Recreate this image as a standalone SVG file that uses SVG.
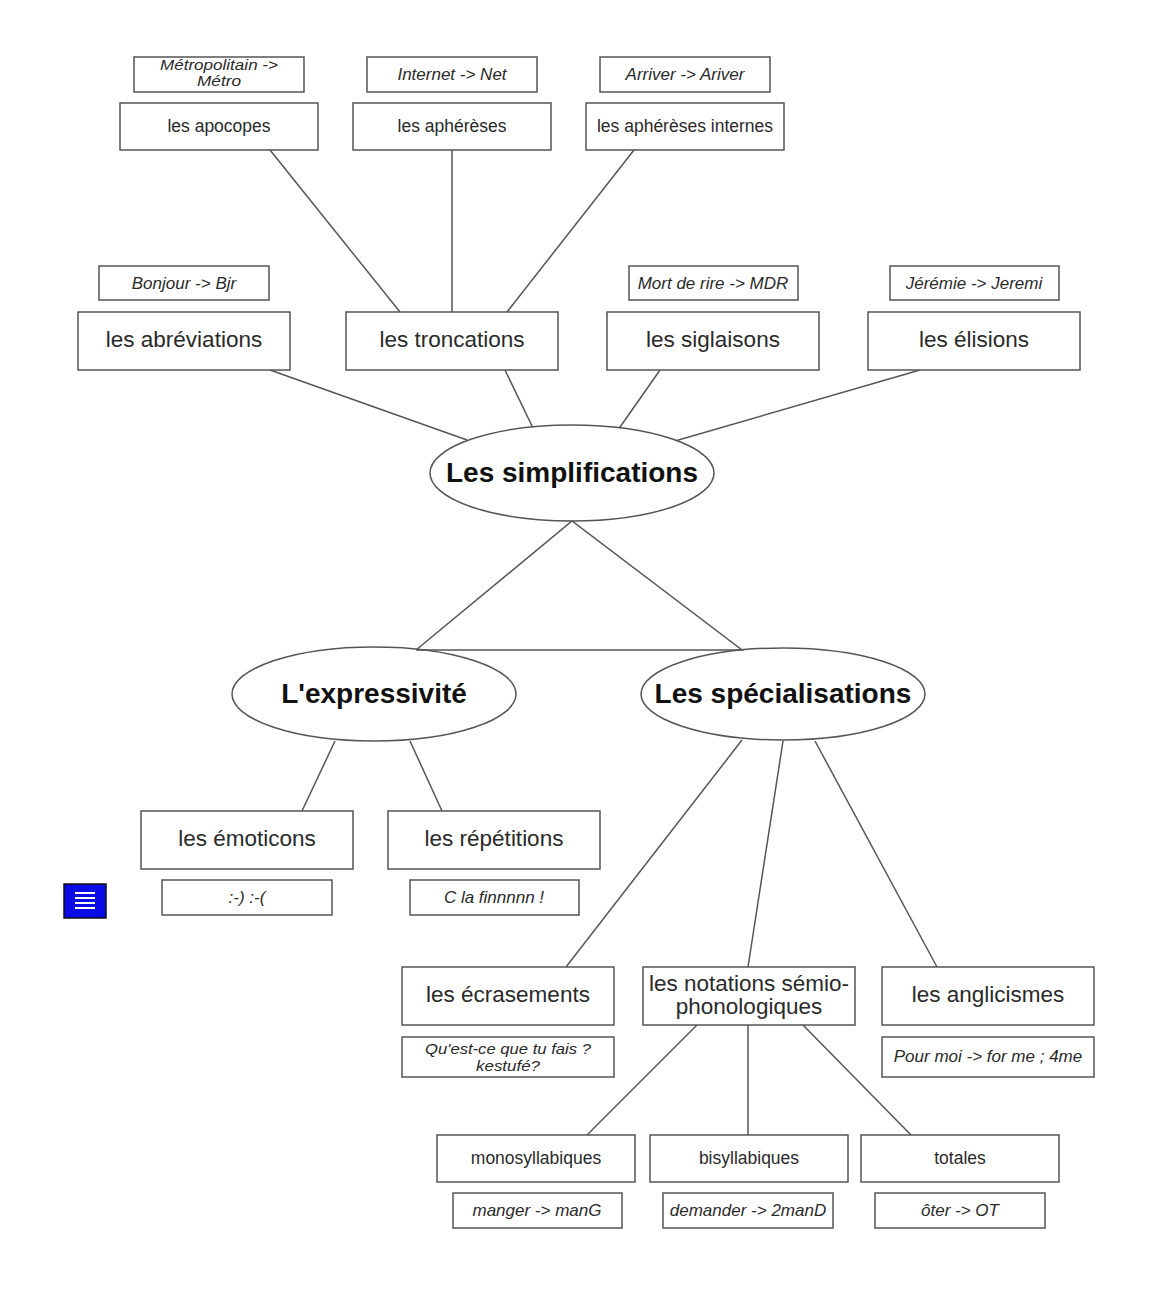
<svg xmlns="http://www.w3.org/2000/svg" width="1159" height="1290" viewBox="0 0 1159 1290">
<style>
.box{fill:#fff;stroke:#555;stroke-width:1.5}
.ell{fill:#fff;stroke:#555;stroke-width:1.5}
.ln{stroke:#555;stroke-width:1.5;fill:none}
.t{font-family:"Liberation Sans",Arial,sans-serif;fill:#2a2a2a;text-anchor:middle}
.big{font-size:22.5px}
.sm{font-size:17.5px}
.ex{font-size:17px;font-style:italic}
.ex2{font-size:14px;font-style:italic}
.hd{font-size:28px;font-weight:bold;fill:#111}
</style>
<rect width="1159" height="1290" fill="#fff"/>
<g id="connectors">
<line class="ln" x1="270" y1="150" x2="400" y2="312"/>
<line class="ln" x1="452" y1="150" x2="452" y2="312"/>
<line class="ln" x1="634" y1="150" x2="507" y2="312"/>
<line class="ln" x1="270" y1="370" x2="467" y2="440"/>
<line class="ln" x1="505" y1="370" x2="533" y2="428"/>
<line class="ln" x1="660" y1="370" x2="618" y2="430"/>
<line class="ln" x1="920" y1="370" x2="675" y2="441"/>
<line class="ln" x1="335" y1="741" x2="302" y2="811"/>
<line class="ln" x1="410" y1="741" x2="442" y2="811"/>
<line class="ln" x1="742" y1="740" x2="566" y2="967"/>
<line class="ln" x1="783" y1="741" x2="748" y2="967"/>
<line class="ln" x1="815" y1="741" x2="937" y2="967"/>
<line class="ln" x1="697" y1="1025" x2="587" y2="1135"/>
<line class="ln" x1="748" y1="1025" x2="748" y2="1135"/>
<line class="ln" x1="803" y1="1025" x2="911" y2="1135"/>
</g>
<g id="ex-metro"><rect class="box" x="134" y="57" width="170" height="35"/><text class="t ex2" x="219" y="70" textLength="118" lengthAdjust="spacingAndGlyphs">Métropolitain -&gt;</text><text class="t ex2" x="219" y="86" textLength="44" lengthAdjust="spacingAndGlyphs">Métro</text></g>
<g id="ex-net"><rect class="box" x="367" y="57" width="170" height="35"/><text class="t ex" x="452" y="80">Internet -&gt; Net</text></g>
<g id="ex-ariver"><rect class="box" x="600" y="57" width="170" height="35"/><text class="t ex" x="685" y="80">Arriver -&gt; Ariver</text></g>
<g id="apocopes"><rect class="box" x="120" y="103" width="198" height="47"/><text class="t sm" x="219" y="132">les apocopes</text></g>
<g id="aphereses"><rect class="box" x="353" y="103" width="198" height="47"/><text class="t sm" x="452" y="132">les aphérèses</text></g>
<g id="aphereses-internes"><rect class="box" x="586" y="103" width="198" height="47"/><text class="t sm" x="685" y="132">les aphérèses internes</text></g>
<g id="ex-bjr"><rect class="box" x="99" y="266" width="170" height="34"/><text class="t ex" x="184" y="289">Bonjour -&gt; Bjr</text></g>
<g id="ex-mdr"><rect class="box" x="629" y="266" width="169" height="34"/><text class="t ex" x="713" y="289">Mort de rire -&gt; MDR</text></g>
<g id="ex-jeremi"><rect class="box" x="890" y="266" width="169" height="34"/><text class="t ex" x="974" y="289">Jérémie -&gt; Jeremi</text></g>
<g id="abreviations"><rect class="box" x="78" y="312" width="212" height="58"/><text class="t big" x="184" y="347">les abréviations</text></g>
<g id="troncations"><rect class="box" x="346" y="312" width="212" height="58"/><text class="t big" x="452" y="347">les troncations</text></g>
<g id="siglaisons"><rect class="box" x="607" y="312" width="212" height="58"/><text class="t big" x="713" y="347">les siglaisons</text></g>
<g id="elisions"><rect class="box" x="868" y="312" width="212" height="58"/><text class="t big" x="974" y="347">les élisions</text></g>
<g id="simplifications"><ellipse class="ell" cx="572" cy="473" rx="142" ry="48"/><text class="t hd" x="572" y="482">Les simplifications</text></g>
<g id="expressivite"><ellipse class="ell" cx="374" cy="694" rx="142" ry="47"/><text class="t hd" x="374" y="703">L'expressivité</text></g>
<g id="specialisations"><ellipse class="ell" cx="783" cy="694" rx="142" ry="46"/><text class="t hd" x="783" y="703">Les spécialisations</text></g>
<g id="tri"><polyline class="ln" points="416,650 572,521 742,650 416,650"/></g>
<g id="emoticons"><rect class="box" x="141" y="811" width="212" height="58"/><text class="t big" x="247" y="846">les émoticons</text></g>
<g id="repetitions"><rect class="box" x="388" y="811" width="212" height="58"/><text class="t big" x="494" y="846">les répétitions</text></g>
<g id="ex-smiley"><rect class="box" x="162" y="880" width="170" height="35"/><text class="t ex" x="247" y="903">:-) :-(</text></g>
<g id="ex-fin"><rect class="box" x="410" y="880" width="169" height="35"/><text class="t ex" x="494" y="903">C la finnnnn !</text></g>
<g id="icon"><rect x="64" y="884" width="42" height="34" fill="#0a0ae6" stroke="#111" stroke-width="1.5"/><g stroke="#fff" stroke-width="2"><line x1="75" y1="893" x2="95" y2="893"/><line x1="75" y1="898" x2="95" y2="898"/><line x1="75" y1="903" x2="95" y2="903"/><line x1="75" y1="908" x2="95" y2="908"/></g></g>
<g id="ecrasements"><rect class="box" x="402" y="967" width="212" height="58"/><text class="t big" x="508" y="1002">les écrasements</text></g>
<g id="notations"><rect class="box" x="643" y="967" width="212" height="58"/><text class="t big" x="749" y="991">les notations sémio-</text><text class="t big" x="749" y="1014">phonologiques</text></g>
<g id="anglicismes"><rect class="box" x="882" y="967" width="212" height="58"/><text class="t big" x="988" y="1002">les anglicismes</text></g>
<g id="ex-kestufe"><rect class="box" x="402" y="1037" width="212" height="40"/><text class="t ex2" x="508" y="1054" textLength="166" lengthAdjust="spacingAndGlyphs">Qu'est-ce que tu fais ?</text><text class="t ex2" x="508" y="1071" textLength="64" lengthAdjust="spacingAndGlyphs">kestufé?</text></g>
<g id="ex-4me"><rect class="box" x="882" y="1037" width="212" height="40"/><text class="t ex" x="988" y="1062">Pour moi -&gt; for me ; 4me</text></g>
<g id="monosyllabiques"><rect class="box" x="437" y="1135" width="198" height="47"/><text class="t sm" x="536" y="1164">monosyllabiques</text></g>
<g id="bisyllabiques"><rect class="box" x="650" y="1135" width="198" height="47"/><text class="t sm" x="749" y="1164">bisyllabiques</text></g>
<g id="totales"><rect class="box" x="861" y="1135" width="198" height="47"/><text class="t sm" x="960" y="1164">totales</text></g>
<g id="ex-mang"><rect class="box" x="453" y="1193" width="169" height="35"/><text class="t ex" x="537" y="1216">manger -&gt; manG</text></g>
<g id="ex-2mand"><rect class="box" x="663" y="1193" width="170" height="35"/><text class="t ex" x="748" y="1216">demander -&gt; 2manD</text></g>
<g id="ex-ot"><rect class="box" x="875" y="1193" width="170" height="35"/><text class="t ex" x="960" y="1216">ôter -&gt; OT</text></g>
</svg>
